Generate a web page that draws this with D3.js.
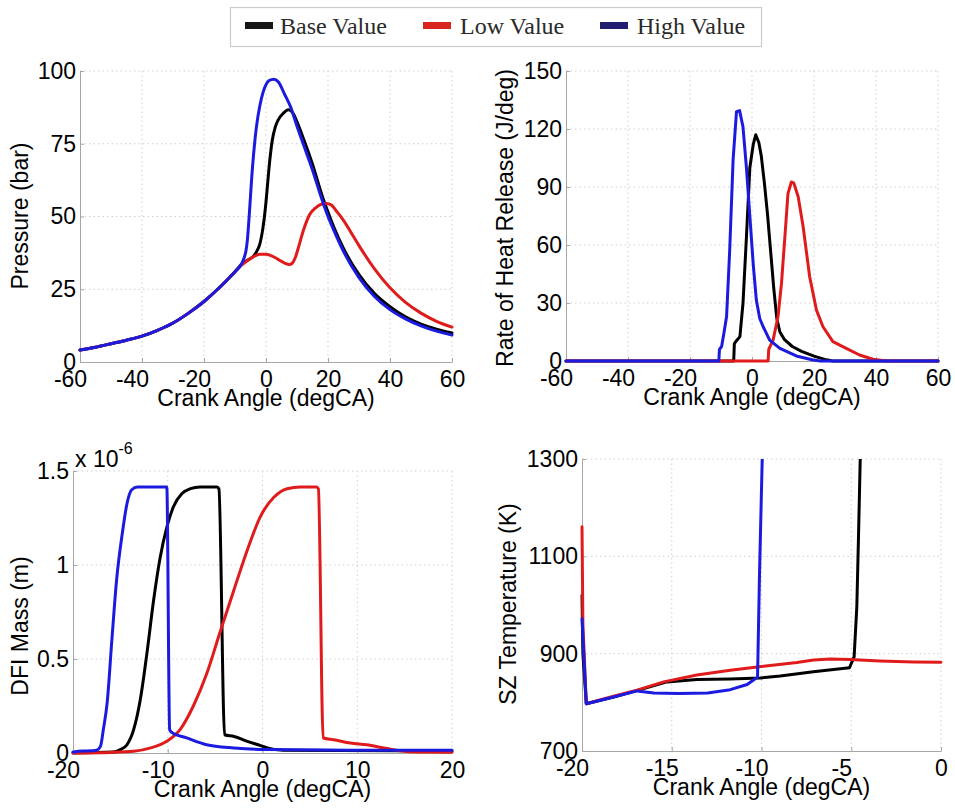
<!DOCTYPE html>
<html>
<head>
<meta charset="utf-8">
<script src="https://cdn.jsdelivr.net/npm/d3@7"></script>
<style>
  html, body { margin: 0; padding: 0; background: #ffffff; }
  svg { display: block; }
</style>
</head>
<body>
<script>
// ---------------- DATA ----------------
const seriesNames = ["Base Value", "Low Value", "High Value"];
const lineColors = ["#000000", "#e01b1b", "#1b1be0"];
const legendColors = ["#161616", "#d8261f", "#231d72"];

// Panel 1: Pressure (bar) vs crank angle
const pressureAngleBase = [-60,-55,-50,-45,-40,-35,-30,-25,-20,-15,-12,-10,-8,-6,-4,-3,-2,-1,-0.5,0,0.5,1,1.5,2,3,4,5.5,7.2,9,10,12,15,18,20,22,25,30,35,40,45,50,55,60];
const pressureBase = [4.1,5.1,6.3,7.5,8.9,10.9,13.4,16.8,20.8,25.6,28.8,31.0,33.5,35.0,36.4,38,40.5,46,50,55,61,67,72,76,80.8,83.3,85.4,86.7,85,82.5,77,68,57.5,51.5,46,39,30,23.5,19,15.5,13,11.3,10];
const pressureAngleLow = [-60,-55,-50,-45,-40,-35,-30,-25,-20,-15,-12,-10,-8,-6,-4,-2,0,2,4,6,7.5,8.5,9.5,10.5,12,14,16,18,19.5,21,23,25,28,30,35,40,45,50,55,60];
const pressureLow = [4.1,5.1,6.3,7.5,8.9,10.9,13.4,16.8,20.8,25.6,28.8,31.0,33.2,34.8,36.2,37,37,36.4,35.2,34,33.5,34,36,39.5,45,50.5,53,54.3,54.5,54,51.5,48.7,43.5,40,32,25.5,20.5,16.8,14,12];
const pressureAngleHigh = [-60,-55,-50,-45,-40,-35,-30,-25,-20,-15,-12,-10,-8,-7,-6.5,-6,-5.5,-5,-4.5,-4,-3.5,-3,-2,-1,0,1,2.5,4,6,8,10,12,15,18,20,22,25,30,35,40,45,50,55,60];
const pressureHigh = [4.1,5.1,6.3,7.5,8.9,10.9,13.4,16.8,20.8,25.6,28.8,31.0,33.5,36,38,42,49,57,65,71.5,77,81.5,88,92.5,95.3,96.7,97.2,96.2,92,87.5,81,75,66,56,50,45,38,29,22.5,18,14.8,12.4,10.6,9.3];

// Panel 2: Rate of heat release (J/deg)
const hrrAngleBase = [-60,-5.9,-5.7,-5.0,-3.9,-2.9,-1.8,-0.7,0.4,1.2,2.2,3.0,4.0,5.0,6.0,7.0,8.0,9.0,10.5,13,16,20,24,26,60];
const hrrBase = [0,0,9,10.5,12.6,30,64,100,112,117,113,106,92,76,57,38,22,15,11,7.5,5,2.5,0.6,0,0];
const hrrAngleLow = [-60,5.2,5.4,6.8,8.4,9.5,10.6,11.6,12.7,13.5,14.9,16.5,18.6,20.8,22.9,26.1,30.4,34.7,39,43.3,60];
const hrrLow = [0,0,6,10.8,23,40,64,86.6,92.6,92,85,69.4,43.6,26.3,17.7,10,6.5,3.1,0.9,0,0];
const hrrAngleHigh = [-60,-10.7,-10.5,-9.8,-9.0,-8.2,-7.2,-6.1,-5.0,-4.0,-2.9,-1.8,-0.7,0.4,1.4,2.5,3.6,5.7,9,14.3,19.7,22,60];
const hrrHigh = [0,0,6,7.5,15,23,57,104,129,129.5,121,100,75,50,31.5,22,17.7,10.8,6.5,2.6,0.5,0,0];

// Panel 3: DFI mass (x 10^-6)
const dfiAngleBase = [-20,-15.8,-15,-14.3,-13.6,-12.9,-12.2,-11.5,-10.8,-10.1,-9.4,-8.5,-7.6,-6.6,-4.8,-4.6,-4.0,-3.0,-1.6,-0.2,0.5,2.2,20];
const dfiBase = [0,0.005,0.018,0.044,0.124,0.283,0.53,0.81,1.04,1.2,1.31,1.38,1.406,1.415,1.415,1.405,0.097,0.088,0.062,0.039,0.027,0.014,0.01];
const dfiAngleLow = [-20,-16,-13.6,-11.8,-10.1,-8.7,-7.3,-5.9,-4.5,-3.0,-1.6,-0.2,1.2,2.6,4.0,5.7,5.9,6.4,7.5,9.3,11,12.8,14.5,16.3,20];
const dfiLow = [0,0.003,0.009,0.027,0.062,0.124,0.25,0.42,0.64,0.87,1.08,1.26,1.36,1.406,1.415,1.415,1.405,0.08,0.071,0.053,0.044,0.027,0.012,0.005,0.004];
const dfiAngleHigh = [-20,-19,-18,-17.5,-17.1,-16.8,-16.4,-15.9,-15.4,-14.8,-14.3,-13.8,-13.2,-10.1,-9.8,-9.6,-8,-5.9,-3,0.5,10,20];
const dfiHigh = [0.005,0.01,0.012,0.015,0.035,0.124,0.265,0.6,0.92,1.167,1.327,1.40,1.415,1.415,0.124,0.11,0.08,0.044,0.027,0.018,0.015,0.014];

// Panel 4: SZ temperature (K)
const szAngleBase = [-20,-19.95,-19.76,-18.24,-16.94,-15.27,-13.6,-11.74,-10.07,-8.96,-7.11,-5.1,-4.84,-4.69,-4.6,-4.5,-4.45];
const szBase = [1020,900,797,811,824,842,847,848,850,854,862.7,871,893.5,996,1134,1300,1400];
const szAngleLow = [-20,-19.95,-19.76,-18.24,-16.94,-15.45,-13.6,-11.74,-9.89,-8.03,-7.1,-6.18,-5.07,-3.4,-1.54,0];
const szLow = [1161,960,797,812.6,825,842,856,866,874,882,887,889,888,885,883,882.5];
const szAngleHigh = [-20,-19.76,-18.24,-16.94,-16.0,-14.6,-13.0,-11.74,-10.8,-10.33,-10.22,-10.11,-9.96,-9.9];
const szHigh = [972,797,811,823.5,819.4,818,819.4,826,836.6,849,851,1065,1300,1400];

// Axis ticks
const ticksX1 = [-60,-40,-20,0,20,40,60];
const ticksY1 = [0,25,50,75,100];
const ticksY2 = [0,30,60,90,120,150];
const ticksX3 = [-20,-10,0,10,20];
const ticksY3 = [0,0.5,1,1.5];
const ticksX4 = [-20,-15,-10,-5,0];
const ticksY4 = [700,900,1100,1300];

const xLabelText = "Crank Angle (degCA)";

// ---------------- DRAW ----------------
const W = 955, H = 810;
const svg = d3.select("body").append("svg")
  .attr("width", W).attr("height", H)
  .style("font-family", "'Liberation Sans', Arial, sans-serif");
svg.append("rect").attr("width", W).attr("height", H).attr("fill", "#ffffff");

const panels = [
  { id: "p1", left: 80, right: 452, top: 71, bottom: 362,
    xDomain: [-60, 60], yDomain: [0, 100], xTicks: ticksX1, yTicks: ticksY1,
    yLabel: "Pressure (bar)", yLabelX: 28, yLabelY: 216, curve: d3.curveMonotoneX,
    series: [[pressureAngleBase, pressureBase],[pressureAngleLow, pressureLow],[pressureAngleHigh, pressureHigh]] },
  { id: "p2", left: 566, right: 938, top: 71, bottom: 361,
    xDomain: [-60, 60], yDomain: [0, 150], xTicks: ticksX1, yTicks: ticksY2,
    yLabel: "Rate of Heat Release (J/deg)", yLabelX: 513, yLabelY: 218, curve: d3.curveLinear,
    series: [[hrrAngleBase, hrrBase],[hrrAngleLow, hrrLow],[hrrAngleHigh, hrrHigh]] },
  { id: "p3", left: 73, right: 452, top: 471, bottom: 753,
    xDomain: [-20, 20], yDomain: [0, 1.5], xTicks: ticksX3, yTicks: ticksY3,
    yLabel: "DFI Mass (m)", yLabelX: 28, yLabelY: 626, curve: d3.curveMonotoneX,
    series: [[dfiAngleBase, dfiBase],[dfiAngleLow, dfiLow],[dfiAngleHigh, dfiHigh]] },
  { id: "p4", left: 582, right: 941, top: 459, bottom: 751,
    xDomain: [-20, 0], yDomain: [700, 1300], xTicks: ticksX4, yTicks: ticksY4,
    yLabel: "SZ Temperature (K)", yLabelX: 516, yLabelY: 604, curve: d3.curveLinear,
    series: [[szAngleBase, szBase],[szAngleLow, szLow],[szAngleHigh, szHigh]] }
];

const defs = svg.append("defs");

panels.forEach(p => {
  const x = d3.scaleLinear().domain(p.xDomain).range([p.left, p.right]);
  const y = d3.scaleLinear().domain(p.yDomain).range([p.bottom, p.top]);
  const g = svg.append("g").attr("class", p.id);

  // grid (dotted)
  const grid = g.append("g").attr("class", "grid");
  grid.selectAll("line.vx").data(p.xTicks.slice(1)).join("line")
    .attr("x1", d => x(d)).attr("x2", d => x(d))
    .attr("y1", p.top).attr("y2", p.bottom)
    .attr("stroke", "#cfcfcf").attr("stroke-width", 1).attr("stroke-dasharray", "1.5,3");
  grid.selectAll("line.hy").data(p.yTicks.slice(1)).join("line")
    .attr("x1", p.left).attr("x2", p.right)
    .attr("y1", d => y(d)).attr("y2", d => y(d))
    .attr("stroke", "#cfcfcf").attr("stroke-width", 1).attr("stroke-dasharray", "1.5,3");

  // axes
  const xAxis = d3.axisBottom(x).tickValues(p.xTicks).tickSizeInner(-4).tickSizeOuter(0)
    .tickFormat(d => String(d));
  const yAxis = d3.axisLeft(y).tickValues(p.yTicks).tickSizeInner(-4).tickSizeOuter(0).tickPadding(4)
    .tickFormat(d => String(d));

  const gx = g.append("g").attr("transform", `translate(0,${p.bottom})`).call(xAxis);
  gx.select(".domain").attr("stroke", "#a6a6a6");
  gx.selectAll(".tick line").attr("stroke", "#a6a6a6");
  gx.selectAll(".tick text")
    .attr("y", 25).attr("dy", null)
    .attr("dx", d => d < 0 ? -10 : 0)
    .attr("fill", "#000").style("font-size", "23px").style("font-family", "'Liberation Sans', Arial, sans-serif");

  const gy = g.append("g").attr("transform", `translate(${p.left},0)`).call(yAxis);
  gy.select(".domain").attr("stroke", "#a6a6a6");
  gy.selectAll(".tick line").attr("stroke", "#a6a6a6");
  gy.selectAll(".tick text")
    .attr("fill", "#000").style("font-size", "23px").style("font-family", "'Liberation Sans', Arial, sans-serif");

  // x label
  g.append("text").attr("x", (p.left + p.right) / 2).attr("y", p.bottom + 44)
    .attr("text-anchor", "middle").style("font-size", "23px").attr("fill", "#000")
    .text(xLabelText);

  // y label
  g.append("text")
    .attr("transform", `translate(${p.yLabelX},${p.yLabelY}) rotate(-90)`)
    .attr("text-anchor", "middle").style("font-size", "23px").attr("fill", "#000")
    .text(p.yLabel);

  // clip
  defs.append("clipPath").attr("id", "clip-" + p.id)
    .append("rect").attr("x", p.left - 2).attr("y", p.top).attr("width", p.right - p.left + 4).attr("height", p.bottom - p.top + 2);

  const line = d3.line().x(d => x(d[0])).y(d => y(d[1])).curve(p.curve);
  const lines = g.append("g").attr("clip-path", `url(#clip-${p.id})`);
  p.series.forEach((s, i) => {
    lines.append("path")
      .datum(d3.zip(s[0], s[1]))
      .attr("d", line)
      .attr("fill", "none")
      .attr("stroke", lineColors[i])
      .attr("stroke-width", 3)
      .attr("stroke-linejoin", "round")
      .attr("stroke-linecap", "round");
  });

  // exponent label for DFI panel
  if (p.id === "p3") {
    const t = g.append("text").attr("x", 75).attr("y", 467).style("font-size", "23px").attr("fill", "#000");
    t.append("tspan").text("x 10");
    t.append("tspan").attr("dy", -13).style("font-size", "16px").text("-6");
  }
});

// ---------------- LEGEND ----------------
const legend = svg.append("g").attr("class", "legend");
legend.append("rect").attr("x", 230.5).attr("y", 7.5).attr("width", 531).attr("height", 39)
  .attr("fill", "#fff").attr("stroke", "#cccccc").attr("stroke-width", 1.2);
const legendSwatchX = [245, 423, 600];
const legendTextX = [280, 460, 637];
seriesNames.forEach((name, i) => {
  legend.append("rect").attr("x", legendSwatchX[i]).attr("y", 22).attr("width", 28).attr("height", 7)
    .attr("fill", legendColors[i]);
  legend.append("text").attr("x", legendTextX[i]).attr("y", 34)
    .style("font-family", "'Liberation Serif', 'Times New Roman', serif")
    .style("font-size", "24px").attr("fill", "#2a2a2a")
    .text(name);
});
</script>
</body>
</html>
